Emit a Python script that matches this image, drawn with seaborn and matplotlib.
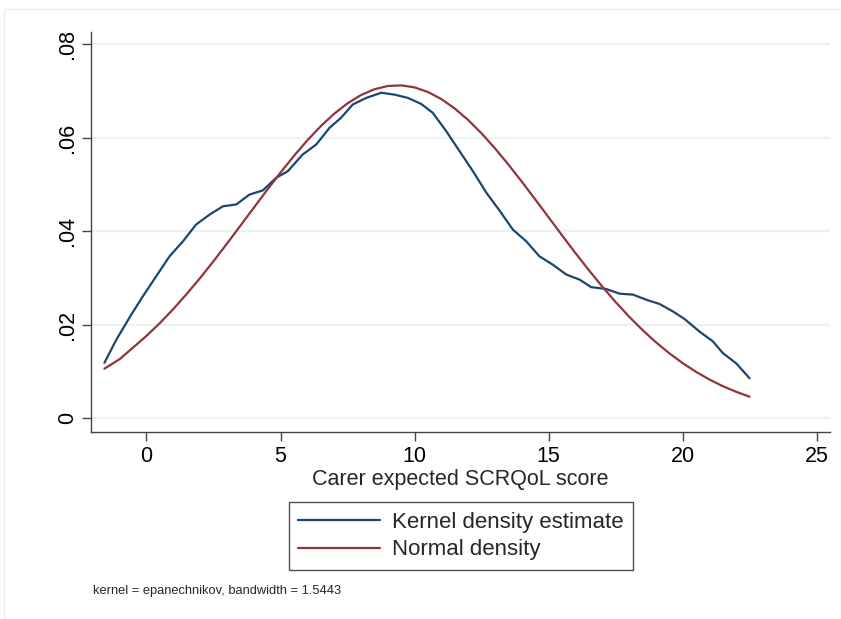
import numpy as np
import pandas as pd
import matplotlib
matplotlib.use("Agg")
import matplotlib.pyplot as plt
import matplotlib.patches as mpatches
from matplotlib.lines import Line2D
import seaborn as sns

# Kernel density estimate
kde_x = [-1.57, -1.13, -0.57, -0.14, 0.36, 0.86, 1.36, 1.85, 2.35, 2.85, 3.35, 3.84,
         4.34, 4.84, 5.27, 5.83, 6.33, 6.83, 7.25, 7.7, 8.2, 8.76, 9.25, 9.75, 10.25,
         10.68, 11.18, 11.68, 12.18, 12.68, 13.17, 13.67, 14.17, 14.66, 15.16, 15.66,
         16.16, 16.59, 17.15, 17.65, 18.15, 18.65, 19.14, 19.64, 20.07, 20.63, 21.13,
         21.5, 22.0, 22.5]
kde_y = [0.0118, 0.0167, 0.0221, 0.0260, 0.0303, 0.0346, 0.0378, 0.0414, 0.0435, 0.0453,
         0.0457, 0.0478, 0.0487, 0.0514, 0.0528, 0.0564, 0.0585, 0.0621, 0.0642, 0.0671,
         0.0685, 0.0696, 0.0692, 0.0685, 0.0672, 0.0653, 0.0614, 0.0571, 0.0528, 0.0482,
         0.0444, 0.0403, 0.0378, 0.0346, 0.0328, 0.0307, 0.0296, 0.0280, 0.0276, 0.0266,
         0.0264, 0.0253, 0.0244, 0.0228, 0.0212, 0.0185, 0.0164, 0.0139, 0.0117, 0.0085]

# Normal density
norm_x = [-1.57, -1.0, -0.5, 0.0, 0.5, 1.0, 1.5, 2.0, 2.5, 3.0, 3.5, 4.0, 4.5, 5.0, 5.5,
          6.0, 6.5, 7.0, 7.5, 8.0, 8.5, 9.0, 9.5, 10.0, 10.5, 11.0, 11.5, 12.0, 12.5,
          13.0, 13.5, 14.0, 14.5, 15.0, 15.5, 16.0, 16.5, 17.0, 17.5, 18.0, 18.5, 19.0,
          19.5, 20.0, 20.5, 21.0, 21.5, 22.0, 22.5]
norm_y = [0.01055, 0.0126, 0.01507, 0.01757, 0.02031, 0.02331, 0.02654, 0.02995, 0.03355,
          0.03729, 0.04112, 0.04496, 0.04879, 0.05251, 0.05608, 0.05941, 0.06244, 0.0651,
          0.06733, 0.0691, 0.07034, 0.07104, 0.07118, 0.07075, 0.06976, 0.06825, 0.06623,
          0.06377, 0.06091, 0.05771, 0.05425, 0.05059, 0.0468, 0.04296, 0.03911, 0.03532,
          0.03166, 0.02815, 0.02482, 0.02172, 0.01885, 0.01623, 0.01387, 0.01175, 0.00988,
          0.00824, 0.00681, 0.0056, 0.00456]

x_ticks = [0, 5, 10, 15, 20, 25]
y_ticks = [0, 0.02, 0.04, 0.06, 0.08]
y_tick_labels = ["0", ".02", ".04", ".06", ".08"]
series_labels = ["Kernel density estimate", "Normal density"]
x_title = "Carer expected SCRQoL score"
note = "kernel = epanechnikov, bandwidth = 1.5443"

BLUE = "#1a476f"
RED = "#90353b"

sns.set_theme(style="white")
plt.rcParams["font.family"] = ["Liberation Sans", "DejaVu Sans"]

W, H = 841, 619
fig = plt.figure(figsize=(W / 100, H / 100), dpi=100, facecolor="white")

# faint outer frame
fig.add_artist(mpatches.Rectangle((4 / W, 0), 1 - 4 / W, 1 - 9 / H, transform=fig.transFigure,
                                  fill=False, edgecolor="#eef0f0", linewidth=1.0))

ax = fig.add_axes([91 / W, 1 - 432 / H, (830 - 91) / W, (432 - 32) / H])
ax.set_facecolor("white")

df_k = pd.DataFrame({"x": kde_x, "y": kde_y})
df_n = pd.DataFrame({"x": norm_x, "y": norm_y})
sns.lineplot(data=df_k, x="x", y="y", ax=ax, color=BLUE, linewidth=1.6, sort=False,
             solid_joinstyle="round")
sns.lineplot(data=df_n, x="x", y="y", ax=ax, color=RED, linewidth=1.6, sort=False,
             solid_joinstyle="round")

ax.set_xlim(-2.07, 25.5)
ax.set_ylim(-0.003, 0.0826)
ax.set_xticks(x_ticks)
ax.set_xticklabels([str(t) for t in x_ticks], fontsize=15.5)
ax.set_yticks(y_ticks)
ax.set_yticklabels(y_tick_labels, fontsize=15.5, rotation=90, va="center")
for t in y_ticks:
    ax.axhline(t, color="#eaf2f3", linewidth=1.6, zorder=0)
ax.grid(False)

for s in ["top", "right"]:
    ax.spines[s].set_visible(False)
for s in ["left", "bottom"]:
    ax.spines[s].set_color("#444444")
    ax.spines[s].set_linewidth(1.0)
ax.tick_params(axis="both", which="both", direction="out", length=6.2, width=1.0,
               color="#444444", labelcolor="black", pad=4, left=True, bottom=True)
ax.tick_params(axis="y", pad=3.3)

ax.set_xlabel(x_title, fontsize=15.5, labelpad=1)
ax.set_ylabel("")

handles = [Line2D([0], [0], color=BLUE, linewidth=1.6),
           Line2D([0], [0], color=RED, linewidth=1.6)]
leg = fig.legend(handles, series_labels, loc="center", bbox_to_anchor=(461 / W, 1 - 536 / H),
                 fontsize=16, frameon=True, fancybox=False, handlelength=3.7,
                 handletextpad=0.55, borderpad=0.42, labelspacing=0.3, borderaxespad=0)
leg.get_frame().set_edgecolor("#222222")
leg.get_frame().set_linewidth(1.0)

fig.text(93 / W, 1 - 591 / H, note, fontsize=9.3, ha="left", va="center")

fig.savefig("out.png", dpi=100, facecolor="white")
